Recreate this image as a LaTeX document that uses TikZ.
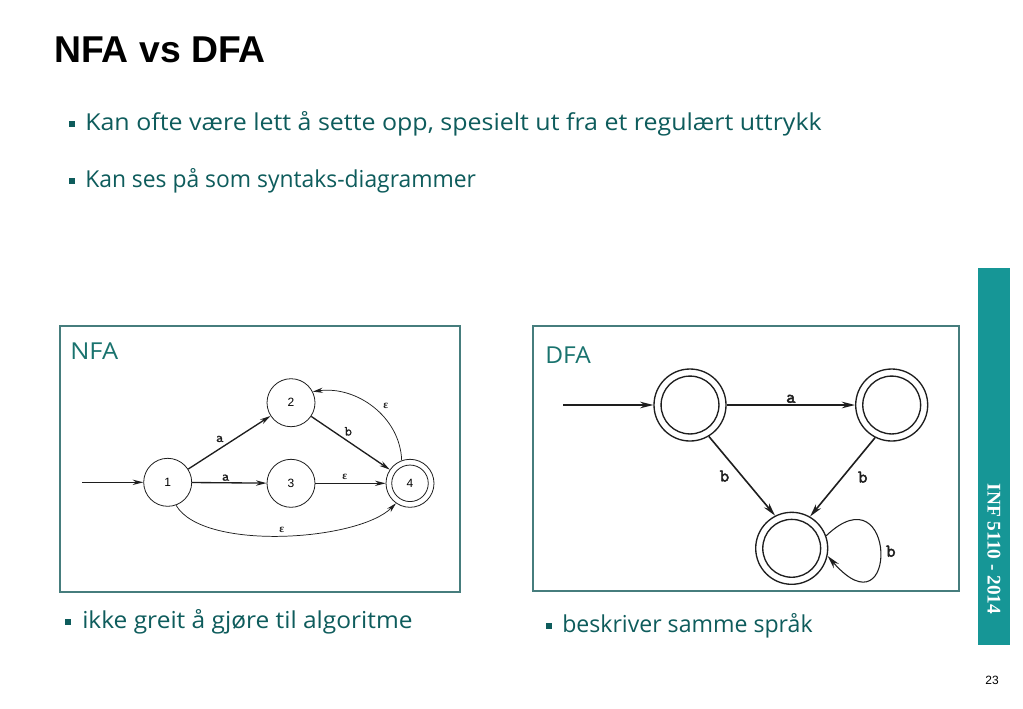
\documentclass[tikz,border=0pt]{standalone}
\usepackage{fontspec}
\usetikzlibrary{arrows.meta,positioning}
\newfontfamily\slidefont{Open Sans}
\newfontfamily\titlefont{Liberation Sans}
\newfontfamily\barfont{Liberation Serif}
\newfontfamily\courb[FakeBold=2.5]{lmmono10-regular.otf}
\newfontfamily\courm[FakeBold=0.8]{lmmono10-regular.otf}
\definecolor{txt}{RGB}{14,92,92}
\definecolor{teal1}{RGB}{22,150,150}
\definecolor{boxc}{RGB}{70,125,125}
\definecolor{lab}{RGB}{25,115,110}
\definecolor{ink}{RGB}{30,30,30}
\tikzset{
  bullettext/.style={anchor=west, inner sep=0pt, text=txt, font=\slidefont\fontsize{17.5}{20}\selectfont},
  bulletsq/.style={fill=txt, inner sep=0pt, minimum size=4.5pt},
  frame/.style={draw=boxc, line width=0.8pt},
  boxlabel/.style={anchor=west, inner sep=0pt, text=lab, font=\slidefont\fontsize{17.5}{20}\selectfont},
  nstate/.style={circle, draw=ink, line width=0.6pt, minimum size=36pt, inner sep=0pt, font=\titlefont\fontsize{9}{10}\selectfont},
  nacc/.style={nstate, path picture={\draw[ink, line width=0.6pt] (path picture bounding box.center) circle[radius=13.7pt];}},
  dacc/.style={circle, draw=ink, line width=1pt, minimum size=54pt, inner sep=0pt,
     path picture={\draw[ink, line width=1pt] (path picture bounding box.center) circle[radius=21.7pt];}},
  narr/.style={draw=ink, line width=1pt, -{Stealth[length=8pt,width=4pt]}},
  nthin/.style={draw=ink, line width=0.55pt, -{Stealth[length=7.5pt,width=3.8pt]}},
  darr/.style={draw=ink, line width=1.2pt, -{Stealth[length=10pt,width=5pt]}},
  nlab/.style={inner sep=1pt, font=\courm\fontsize{10.5}{12}\selectfont, text=ink},
  elab/.style={inner sep=1pt, font=\barfont\bfseries\fontsize{8.5}{10}\selectfont, text=ink},
  dlab/.style={inner sep=1pt, font=\courb\fontsize{13.5}{15}\selectfont, text=ink},
}
\begin{document}
\begin{tikzpicture}[x=0.75pt,y=-0.75pt]
\useasboundingbox (0,0) rectangle (1023,708);
\fill[white] (0,0) rectangle (1023,708);
% title
\node[anchor=west, inner sep=0pt, font=\titlefont\bfseries\fontsize{28}{32}\selectfont] (title) at (54,50) {NFA vs DFA};
% top bullets
\node[bulletsq] (b1) at (72,124) {};
\node[bullettext, xscale=1.07] (t1) at (85,124) {Kan ofte være lett å sette opp, spesielt ut fra et regulært uttrykk};
\node[bulletsq] (b2) at (72,181) {};
\node[bullettext, xscale=0.98] (t2) at (85,181) {Kan ses på som syntaks-diagrammer};
% side bar
\fill[teal1] (978,268) rectangle (1010,645);
\node[rotate=-90, text=white, inner sep=0pt, font=\barfont\bfseries\fontsize{14.5}{16}\selectfont] (bar) at (994,549) {INF 5110 - 2014};
\node[font=\titlefont\fontsize{9}{10}\selectfont, inner sep=0pt] (pg) at (992,680) {23};
% boxes
\draw[frame] (60,326) rectangle (460,592);
\draw[frame] (533,326) rectangle (959,591);
\node[boxlabel, xscale=1.09] (nfal) at (70,351) {NFA};
\node[boxlabel, xscale=1.05] (dfal) at (545,355) {DFA};
% bottom bullets
\node[bulletsq] (b3) at (68,622) {};
\node[bullettext, xscale=1.05] (t3) at (82,622) {ikke greit å gjøre til algoritme};
\node[bulletsq] (b4) at (549,626) {};
\node[bullettext, xscale=0.99] (t4) at (562,626) {beskriver samme språk};
% NFA
\node[nstate] (n1) at (167.7,482.3) {1};
\node[nstate] (n2) at (291,402.7) {2};
\node[nstate] (n3) at (291,483.3) {3};
\node[nacc] (n4) at (410,483.3) {4};
\coordinate (ninit) at (82,482.3);
\draw[narr] (ninit) -- (n1);
\draw[narr] (n1) -- node[nlab, pos=0.42, above left=2pt and -2pt] {a} (n2);
\draw[narr] (n1) -- node[nlab, pos=0.45, above=0pt] {a} (n3);
\draw[narr] (n2) -- node[nlab, pos=0.45, above right=2pt and -3pt] {b} (n4);
\draw[narr] (n3) -- node[elab, pos=0.42, above=1pt] {ε} (n4);
\draw[nthin] (n4.110) to[out=92, in=8, looseness=1.0] node[elab, pos=0.45, above right=1pt and 3pt] {ε} (n2.27);
\draw[nthin] (n1.290) to[out=-60, in=-135, looseness=0.62] node[elab, pos=0.5, above=1pt] {ε} (n4.235);
% DFA
\node[dacc] (dA) at (690,405) {};
\node[dacc] (dB) at (891.7,405) {};
\node[dacc] (dC) at (791.7,548.3) {};
\coordinate (dinit) at (563,405);
\draw[darr] (dinit) -- (dA);
\draw[darr] (dA) -- node[dlab, above=0pt] {a} (dB);
\draw[darr] (dA.-59) -- node[dlab, pos=0.5, left=8pt] {b} (dC.117);
\draw[darr] (dB.-117) -- node[dlab, pos=0.5, right=10pt] {b} (dC.60);
\draw[darr, line width=0.8pt] (dC.20) .. controls (897,468) and (899,638) .. node[dlab, pos=0.5, right=3pt] {b} (dC.-12);
\end{tikzpicture}
\end{document}
